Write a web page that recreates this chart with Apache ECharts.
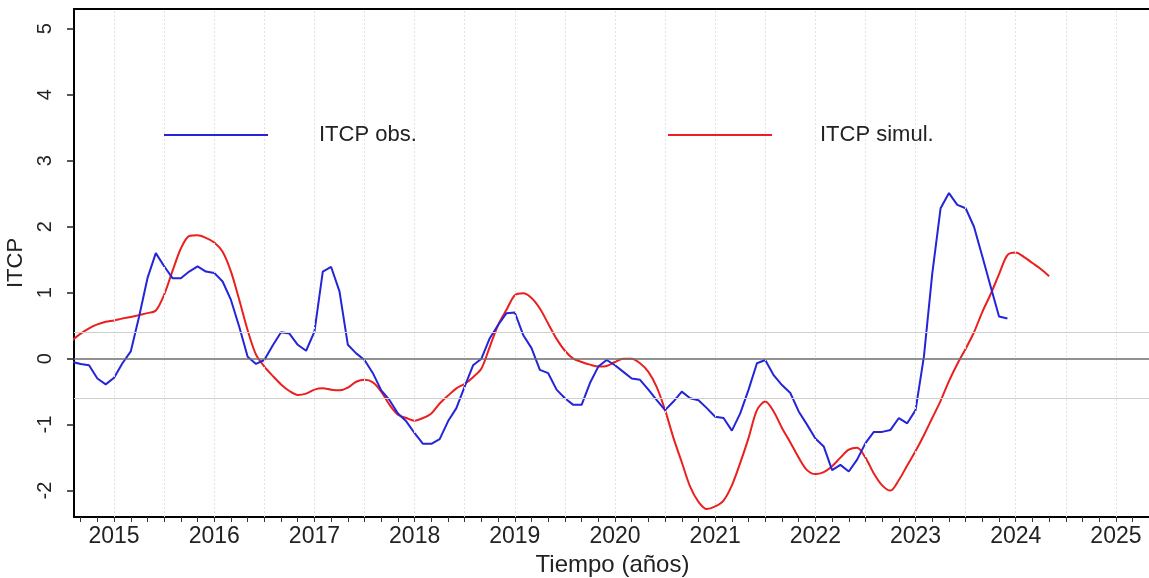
<!DOCTYPE html>
<html>
<head>
<meta charset="utf-8">
<script src="https://cdn.jsdelivr.net/npm/echarts@6/dist/echarts.min.js"></script>
<style>
html,body{margin:0;padding:0;background:#fff;}
#chart{width:1149px;height:578px;}
</style>
</head>
<body>
<div id="chart"></div>
<script>
// Monthly series, first value = Aug 2014
var startYear = 2014, startMonth = 8;
var itcpObs = [
 -0.05,-0.08,-0.10,-0.30,-0.39,-0.29,-0.07,0.11,0.64,1.22,
 1.60,1.40,1.22,1.22,1.32,1.40,1.32,1.30,1.17,0.89,
 0.48,0.03,-0.08,-0.02,0.20,0.40,0.38,0.21,0.12,0.41,
 1.32,1.39,1.02,0.21,0.08,-0.02,-0.22,-0.48,-0.63,-0.83,
 -0.95,-1.13,-1.29,-1.29,-1.22,-0.95,-0.75,-0.42,-0.10,0.00,
 0.31,0.51,0.69,0.70,0.36,0.16,-0.17,-0.22,-0.47,-0.60,
 -0.70,-0.70,-0.37,-0.12,-0.02,-0.10,-0.20,-0.30,-0.32,-0.47,
 -0.63,-0.78,-0.65,-0.50,-0.60,-0.63,-0.75,-0.88,-0.90,-1.09,
 -0.83,-0.47,-0.07,-0.02,-0.25,-0.40,-0.52,-0.80,-1.00,-1.21,
 -1.33,-1.69,-1.61,-1.71,-1.53,-1.28,-1.11,-1.11,-1.08,-0.90,
 -0.98,-0.78,0.03,1.29,2.28,2.51,2.33,2.28,2.00,1.55,
 1.09,0.64,0.61
];
var itcpSimul = [
 0.28,0.38,0.46,0.52,0.56,0.58,0.61,0.63,0.66,0.69,
 0.73,0.97,1.33,1.67,1.86,1.87,1.83,1.76,1.62,1.32,
 0.89,0.43,0.06,-0.12,-0.26,-0.39,-0.49,-0.55,-0.53,-0.47,
 -0.45,-0.47,-0.48,-0.44,-0.35,-0.32,-0.36,-0.50,-0.70,-0.85,
 -0.90,-0.94,-0.90,-0.83,-0.68,-0.56,-0.45,-0.38,-0.28,-0.15,
 0.18,0.51,0.74,0.96,0.99,0.92,0.76,0.53,0.30,0.12,
 0.00,-0.05,-0.09,-0.12,-0.11,-0.05,0.00,0.00,-0.07,-0.20,
 -0.43,-0.78,-1.20,-1.57,-1.94,-2.17,-2.28,-2.24,-2.15,-1.92,
 -1.58,-1.20,-0.78,-0.65,-0.80,-1.05,-1.27,-1.50,-1.69,-1.75,
 -1.72,-1.63,-1.50,-1.38,-1.35,-1.50,-1.74,-1.92,-2.00,-1.84,
 -1.62,-1.40,-1.16,-0.90,-0.64,-0.34,-0.08,0.15,0.40,0.71,
 0.98,1.28,1.57,1.61,1.54,1.45,1.36,1.25
];
var yearLabels = [2015,2016,2017,2018,2019,2020,2021,2022,2023,2024,2025];
var yTickLabels = [-2,-1,0,1,2,3,4,5];
var refLines = [0.4,-0.6];

function toPairs(arr){
  return arr.map(function(v,i){ return [startYear + (startMonth - 1 + i)/12, v]; });
}
var xMin = 2014.6, xMax = 2025.35;
var minorTicks = [];
for (var k = Math.ceil(xMin*6); k/6 <= xMax; k++) minorTicks.push(k/6);
var halfYears = [];
for (var h = Math.ceil(xMin*2); h/2 <= xMax; h++) halfYears.push(h/2);

var FONT = '"Liberation Sans", Arial, sans-serif';
var chart = echarts.init(document.getElementById('chart'), null, {renderer:'canvas'});
var option = {
  animation:false,
  backgroundColor:'#fff',
  grid:{left:74, right:-2, top:9, bottom:61, show:false, containLabel:false, outerBoundsMode:'none'},
  legend:[
    {data:[{name:'ITCP obs.', icon:'rect'}], left:164, top:124, padding:0, itemWidth:104, itemHeight:2, z:20,
     itemStyle:{color:'#2424d8'},
     textStyle:{fontFamily:FONT, fontSize:22, color:'#222', padding:[0,0,0,46]}},
    {data:[{name:'ITCP simul.', icon:'rect'}], left:668, top:124, padding:0, itemWidth:104, itemHeight:2, z:20,
     itemStyle:{color:'#ec1f1f'},
     textStyle:{fontFamily:FONT, fontSize:22, color:'#222', padding:[0,0,0,43]}}
  ],
  xAxis:[{
    type:'value', min:xMin, max:xMax,
    name:'Tiempo (años)', nameLocation:'middle', nameGap:36,
    nameTextStyle:{fontFamily:FONT, fontSize:24, color:'#222'},
    axisLine:{show:true, onZero:false, lineStyle:{color:'#000', width:2}},
    axisTick:{show:true, length:5, customValues:minorTicks, lineStyle:{color:'#333', width:1}},
    axisLabel:{customValues:yearLabels, fontFamily:FONT, fontSize:23, color:'#222', margin:8,
      formatter:function(v){return String(Math.round(v));}},
    splitLine:{show:false}
  },{
    type:'value', min:xMin, max:xMax, position:'top',
    axisLine:{show:true, onZero:false, lineStyle:{color:'#000', width:2}},
    axisTick:{show:false}, axisLabel:{show:false}, splitLine:{show:false}
  }],
  yAxis:{
    type:'value', min:-2.4, max:5.3,
    name:'ITCP', nameLocation:'middle', nameGap:43, nameRotate:90,
    nameTextStyle:{fontFamily:FONT, fontSize:22, color:'#222'},
    axisLine:{show:true, onZero:false, lineStyle:{color:'#000', width:2}},
    axisTick:{show:true, length:7, customValues:yTickLabels, lineStyle:{color:'#222', width:1.5}},
    axisLabel:{customValues:yTickLabels, rotate:90, fontFamily:FONT, fontSize:20, color:'#222', margin:19},
    splitLine:{show:false}
  },
  series:[
    {
      name:'grid', type:'line', data:[], z:1, silent:true,
      markLine:{
        silent:true, symbol:'none', label:{show:false}, animation:false,
        data: halfYears.map(function(v){return {xAxis:v, lineStyle:{color:'#e2e2e2', width:1, type:[2,2]}};})
          .concat(refLines.map(function(v){return {yAxis:v, lineStyle:{color:'#cfcfcf', width:1, type:'solid'}};}))
          .concat([{yAxis:0, lineStyle:{color:'#6e6e6e', width:1.5, type:'solid'}}])
      }
    },
    {
      name:'ITCP obs.', type:'line', data:toPairs(itcpObs), z:3,
      symbol:'none', smooth:false,
      lineStyle:{color:'#2424d8', width:2}, itemStyle:{color:'#2424d8'}
    },
    {
      name:'ITCP simul.', type:'line', data:toPairs(itcpSimul), z:2,
      symbol:'none', smooth:0.3,
      lineStyle:{color:'#ec1f1f', width:2}, itemStyle:{color:'#ec1f1f'}
    }
  ]
};
chart.setOption(option);
</script>
</body>
</html>
